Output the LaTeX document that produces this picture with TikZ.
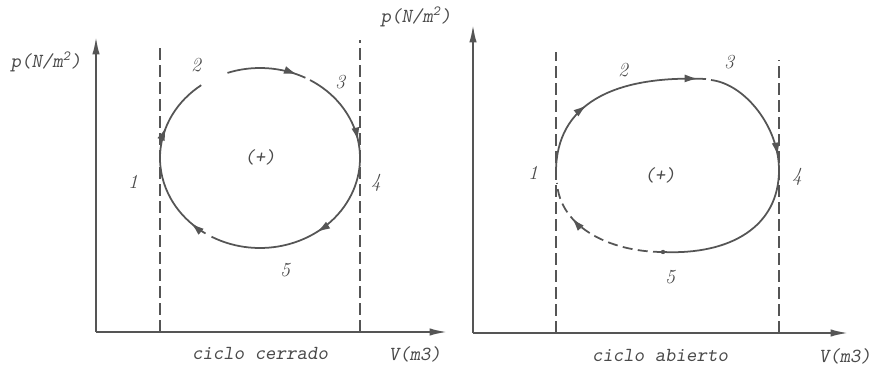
\documentclass[tikz,border=0pt]{standalone}
\usepackage{tikz}
\usetikzlibrary{arrows.meta,decorations.markings}
\definecolor{ink}{HTML}{555555}
\definecolor{inktext}{HTML}{4A4A4A}
\tikzset{
  axisline/.style={
    draw,
    color=ink,
    line width=2pt,
    -{Latex[length=5.5mm,width=2.2mm]}
  },
  guideline/.style={
    draw,
    color=ink,
    line width=1.1pt,
    dash pattern=on 3.6mm off 1.5mm
  },
  cycleline/.style={
    draw,
    color=ink,
    line width=1.5pt
  },
  cycledash/.style={
    cycleline,
    dash pattern=on 3mm off 1.6mm
  },
  tipat/.style={
    postaction={decorate,
      decoration={markings,
        mark=at position #1 with {\arrow{Latex[length=4mm,width=2.4mm]}}}}
  },
  axislabel/.style={
    text=inktext,
    font=\fontsize{17}{20}\selectfont\ttfamily\slshape
  },
  pointlabel/.style={
    text=inktext,
    font=\fontsize{17}{20}\selectfont\itshape
  }
}

\begin{document}
\begin{tikzpicture}[x=0.3mm, y=0.3mm]
  \useasboundingbox (0,0) rectangle (878,367);

  % ciclo cerrado
  \coordinate (oL) at (96,35);
  \coordinate (yL) at (96,331);
  \coordinate (xL) at (448,35);
  \coordinate (dLa) at (160,35);
  \coordinate (dLb) at (160,322);
  \coordinate (dLc) at (360,35);
  \coordinate (dLd) at (360,327);
  \coordinate (cL) at (260,209);
  \draw[axisline] (oL) -- (yL);
  \draw[axisline] (oL) -- (xL);
  \draw[guideline] (dLa) -- (dLb);
  \draw[guideline] (dLc) -- (dLd);
  \draw[cycleline, tipat=0.89] (cL) ++(109:100 and 90)
    arc[start angle=109, end angle=63, x radius=100, y radius=90];
  \draw[cycleline, tipat=0.27, tipat=0.63] (cL) ++(60:100 and 90)
    arc[start angle=60, end angle=-119, x radius=100, y radius=90];
  \draw[cycleline, tipat=0.1, tipat=0.69] (cL) ++(-123:100 and 90)
    arc[start angle=-123, end angle=-234, x radius=100, y radius=90];
  \node[axislabel] (pL) at (46,305) {p(N/m\textsuperscript{2})};
  \node[axislabel] (vL) at (415,13) {V(m3)};
  \node[axislabel] (tL) at (260,14) {ciclo cerrado};
  \node[axislabel] (sL) at (260,210) {(+)};
  \node[pointlabel] (n1L) at (133,185) {1};
  \node[pointlabel] (n2L) at (196,302) {2};
  \node[pointlabel] (n3L) at (340,285) {3};
  \node[pointlabel] (n4L) at (376,184) {4};
  \node[pointlabel] (n5L) at (285,97) {5};

  % ciclo abierto
  \coordinate (oR) at (473,34);
  \coordinate (yR) at (473,343);
  \coordinate (xR) at (849,34);
  \coordinate (dRa) at (556,34);
  \coordinate (dRb) at (556,315);
  \coordinate (dRc) at (779,34);
  \coordinate (dRd) at (779,307);
  \coordinate (p1) at (556,195);
  \coordinate (g1) at (706,288);
  \coordinate (g2) at (711,287);
  \coordinate (p4) at (779,197);
  \coordinate (p5) at (663,115);
  \coordinate (p1b) at (557,184);
  \draw[axisline] (oR) -- (yR);
  \draw[axisline] (oR) -- (xR);
  \draw[guideline] (dRa) -- (dRb);
  \draw[guideline] (dRc) -- (dRd);
  \draw[cycleline, tipat=0.38, tipat=0.96] (p1)
    .. controls (556,262) and (612,292) .. (g1);
  \draw[cycleline, tipat=0.38] (g2)
    .. controls (745,283) and (779,240) .. (p4)
    .. controls (779,140) and (730,112) .. (p5);
  \draw[cycledash, tipat=0.72] (p5)
    .. controls (610,115) and (560,140) .. (p1b);
  \fill[ink] (p5) circle[radius=2.2];
  \node[axislabel] (pR) at (416,350) {p(N/m\textsuperscript{2})};
  \node[axislabel] (vR) at (845,11) {V(m3)};
  \node[axislabel] (tR) at (660,12) {ciclo abierto};
  \node[axislabel] (sR) at (660,192) {(+)};
  \node[pointlabel] (n1R) at (533,194) {1};
  \node[pointlabel] (n2R) at (623,297) {2};
  \node[pointlabel] (n3R) at (729,305) {3};
  \node[pointlabel] (n4R) at (797,190) {4};
  \node[pointlabel] (n5R) at (670,90) {5};
\end{tikzpicture}
\end{document}
